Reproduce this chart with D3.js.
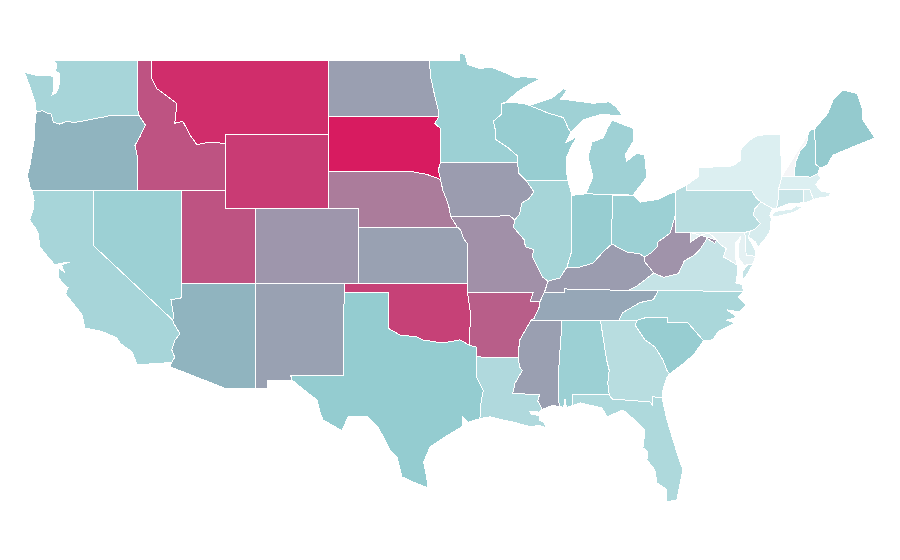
<!DOCTYPE html>
<html lang="en">
<head>
    <meta charset="utf-8">
    <title>D3: US States Choropleth</title>
    <script type="text/javascript" src="https://d3js.org/d3.v7.min.js"></script>
    <style>
        html, body { margin: 0; background: #fff; }
        svg { display: block; }
    </style>
</head>
<body>
    <script type="text/javascript">

        var stateNames = ["WA","OR","CA","NV","ID","MT","WY","UT","AZ","CO","NM","ND","SD","NE","KS","OK","TX","MN","IA","MO","AR","LA","WI","IL","MI","IN","OH","KY","TN","MS","AL","GA","FL","SC","NC","VA","WV","PA","NY","NJ","DE","MD","CT","RI","MA","VT","NH","ME"];
        var stateValues = [28,45,28,32,81,94,89,81,45,58,54,55,100,67,54,87,35,32,56,60,77,25,34,28.5,31,34,32,56,51,55,32,22,25.5,34,27,17.5,59,22,9,11,11,6,16,10,9,0,32,36];

        // Colour ramp
        var colorStops = [0, 8, 35, 45, 55, 100];
        var colorRange = ["#f5f5f7", "#dff0f2", "#94ccd0", "#90b4bf", "#9a9fb1", "#d81b60"];

        // Shared borders, [lon, lat]
        var waCoast = [[-122.76,49],[-122.5,48.75],[-122.6,48.4],[-122.35,48.3],[-122.3,47.9],[-122.4,47.5],[-122.55,47.25],[-122.85,47.1],[-122.7,47.4],[-122.7,47.75],[-122.75,48.13],[-123.1,48.15],[-123.9,48.18],[-124.7,48.33],[-124.32,47.54],[-123.98,46.73],[-123.9,46.2]];
        var columbia = [[-123.9,46.2],[-123.5,46.27],[-123.2,46.15],[-122.9,46.1],[-122.8,45.85],[-122.75,45.65],[-122.3,45.55],[-121.9,45.68],[-121.2,45.65],[-120.6,45.74],[-119.9,45.85],[-119.3,45.93],[-119,46],[-116.92,46]];
        var orCoast = [[-123.9,46.2],[-123.97,45.8],[-124.05,44.69],[-124.3,43.45],[-124.5,42.8],[-124.3,42.1],[-124.2,42]];
        var caCoast = [[-124.2,42],[-124.05,41.46],[-124.1,41],[-124.35,40.4],[-124,40],[-123.78,39.7],[-123.65,38.94],[-123.1,38.4],[-122.63,37.97],[-122.35,38.05],[-121.6,38.12],[-122.2,37.98],[-122,37.6],[-122.4,37.8],[-122.4,37.3],[-122.05,36.95],[-121.75,36.75],[-121.9,36.4],[-120.8,35.3],[-120.6,34.58],[-119.45,34.4],[-118.42,34.04],[-118.2,33.75],[-117.4,33.3],[-117.06,32.6]];
        var snake = [[-117.03,42],[-117.03,43.8],[-117.2,44.4],[-116.85,44.9],[-116.5,45.5],[-116.92,46]];
        var coloradoLow = [[-114.72,32.72],[-114.5,33],[-114.7,33.4],[-114.5,33.9],[-114.15,34.27],[-114.6,34.87],[-114.63,35]];
        var nvAz = [[-114.63,35],[-114.57,35.2],[-114.75,36.1],[-114.4,36.15],[-114.05,36.2]];
        var idMt = [[-116.05,49],[-116.05,48],[-115.7,47.45],[-114.75,46.9],[-114.35,46.65],[-114.5,45.6],[-113.95,45.7],[-113.45,44.95],[-113,44.45],[-112.3,44.55],[-111.5,44.55],[-111.05,44.47]];
        var txSouth = [[-106.53,31.78],[-105.65,31.2],[-104.84,30.71],[-104.64,30.06],[-104.43,29.63],[-103.14,29.05],[-102.74,29.8],[-101.38,29.8],[-100.7,29.26],[-99.89,28.02],[-99.41,27.65],[-99.07,26.57],[-98.19,26.25],[-97.31,25.98],[-97.4,26.6],[-97.6,27.35],[-97.17,28.18],[-96.15,28.72],[-95,29.26],[-94.93,29.8],[-94.6,29.5],[-93.78,29.7]];
        var redRiver = [[-100,34.56],[-99.2,34.2],[-98.05,34.1],[-97.7,33.94],[-96.3,33.77],[-95.13,33.94],[-94.48,33.64]];
        var sabine = [[-94.04,31.99],[-93.55,31.2],[-93.7,30.6],[-93.75,30.1],[-93.78,29.7]];
        var arTn = [[-89.7,36],[-89.7,35.8],[-90.1,35.1],[-90.3,35]];
        var arMs = [[-90.3,35],[-90.6,34.6],[-91.1,33.9],[-91.17,33]];
        var laMs = [[-91.17,33],[-91.1,32.5],[-90.9,32.3],[-91.4,31.6],[-91.55,31.05],[-89.73,31],[-89.85,30.65],[-89.55,30.2]];
        var laCoast = [[-89.55,30.2],[-89.75,30.05],[-90.4,30.1],[-90.3,29.95],[-89.7,29.85],[-89.75,29.6],[-89.4,29.5],[-89.3,29.2],[-89.75,29.35],[-90.3,29.26],[-90.86,29.37],[-91.4,29.5],[-92.2,29.63],[-93.1,29.8],[-93.78,29.7]];
        var savannah = [[-83.1,35],[-83.25,34.74],[-82.57,33.94],[-81.9,33.56],[-81.35,32.86],[-81.08,32.3],[-80.9,32.1]];
        var scNc = [[-83.1,35],[-82.37,35.17],[-81.05,35.15],[-81.05,34.85],[-79.65,34.85],[-78.6,33.9]];
        var scCoast = [[-78.6,33.9],[-79.2,33.2],[-79.9,32.7],[-80.4,32.4],[-80.9,32.1]];
        var ncCoast = [[-78.6,33.9],[-77.96,33.94],[-77.6,34.4],[-76.46,34.85],[-77,35],[-76.33,35.17],[-77,35.55],[-76.13,35.44],[-75.71,35.82],[-76.27,36.25],[-75.87,36.55]];
        var ncTn = [[-81.68,36.59],[-82,36.1],[-82.9,35.95],[-84.1,35.4],[-84.32,35]];
        var vaKy = [[-83.68,36.6],[-83.1,36.85],[-81.97,37.54]];
        var vaWv = [[-81.97,37.54],[-81.3,37.3],[-80.3,37.5],[-79.9,38.2],[-79.3,38.45],[-78.87,38.77],[-78.35,39.4],[-77.83,39.13],[-77.72,39.32]];
        var wvMd = [[-77.72,39.32],[-78.2,39.68],[-78.75,39.6],[-79.48,39.2],[-79.48,39.72]];
        var potomac = [[-77.72,39.32],[-77.5,39.1],[-77.05,38.85],[-77.25,38.4],[-77,38.3],[-76.3,37.95]];
        var vaCoast = [[-76.3,37.95],[-76.3,37.5],[-76.4,37],[-76,36.92],[-75.87,36.55]];
        var ohioWv = [[-80.52,40.64],[-80.85,39.7],[-81.7,39.2],[-81.75,38.95],[-82.2,38.6],[-82.6,38.4]];
        var ohioKy = [[-82.6,38.4],[-83,38.6],[-83.7,38.63],[-84.25,38.85],[-84.82,39.1]];
        var kyIn = [[-84.82,39.1],[-85.42,38.67],[-86.1,38.07],[-86.98,37.86],[-87.87,37.86]];
        var kyIl = [[-87.87,37.86],[-88.35,37.27],[-89.15,37.1]];
        var moIl = [[-91.42,40.38],[-91.5,40],[-90.75,39.3],[-90.7,38.95],[-90.15,38.8],[-90.2,38.4],[-89.9,37.9],[-89.5,37.3],[-89.15,37.1]];
        var iaIl = [[-90.64,42.51],[-90.1,41.9],[-90.5,41.5],[-90.95,41.3],[-91,41],[-91.1,40.7],[-91.42,40.38]];
        var moUpper = [[-95.77,40.58],[-95.85,41],[-96.1,41.6],[-96.3,42],[-96.45,42.55]];
        var neSd = [[-96.45,42.55],[-96.7,42.65],[-97.4,42.85],[-98.45,43],[-104.05,43]];
        var redNorth = [[-97.23,49],[-97.1,48],[-96.8,46.9],[-96.6,46.3],[-96.56,45.94]];
        var mnWi = [[-92.29,46.66],[-92.29,46.1],[-92.87,45.7],[-92.75,45.3],[-92.75,44.75],[-91.9,44.3],[-91.25,43.85],[-91.22,43.5]];
        var wiMi = [[-90.4,46.55],[-89.1,46.13],[-88.1,45.9],[-87.8,45.35],[-87.6,45.1]];
        var paNj = [[-75.35,42],[-75.05,41.6],[-74.7,41.36],[-75.13,40.98],[-75.2,40.65],[-74.75,40.2],[-75.1,39.9],[-75.42,39.8]];
        var nyNe = [[-73.35,45.01],[-73.4,44],[-73.25,43.6],[-73.27,42.75]];
        var vtNh = [[-72.46,42.73],[-72.35,43.5],[-72.05,44.1],[-71.6,44.5],[-71.5,45]];
        var nhMe = [[-70.69,43.18],[-70.98,43.4],[-71.05,45.3]];

        function rev(line) { return line.slice().reverse(); }
        // geojson rings have to end on their first point
        function ring() {
            var pts = Array.prototype.concat.apply([], arguments);
            pts.push(pts[0]);
            return [pts];
        }

        // Outlines for every state, built from the borders above
        var stateShapes = {
            WA: [ring([[-117.04,49]], waCoast, columbia, [[-117.04,46.4]])],
            OR: [ring(orCoast, [[-120,42]], snake, rev(columbia))],
            CA: [ring(caCoast, coloradoLow, [[-120,39],[-120,42]])],
            NV: [ring([[-120,42],[-114.04,42],[-114.04,37]], rev(nvAz), [[-120,39]])],
            ID: [ring(idMt, [[-111.05,42],[-114.04,42]], snake, [[-117.04,46.4],[-117.04,49]])],
            MT: [ring([[-104.05,49],[-104.05,45],[-111.05,45]], rev(idMt))],
            WY: [ring([[-111.05,45],[-104.05,45],[-104.05,41],[-111.05,41]])],
            UT: [ring([[-114.04,42],[-111.05,42],[-111.05,41],[-109.05,41],[-109.05,37],[-114.04,37]])],
            AZ: [ring([[-114.04,37],[-109.05,37],[-109.05,31.33],[-111.07,31.33],[-114.81,32.49]], coloradoLow, nvAz)],
            CO: [ring([[-109.05,41],[-102.05,41],[-102.05,37],[-109.05,37]])],
            NM: [ring([[-109.05,37],[-103,37],[-103,36.5],[-103.04,32],[-106.62,32],[-106.53,31.78],[-108.2,31.78],[-108.2,31.33],[-109.05,31.33]])],
            ND: [ring([[-104.05,49]], redNorth, [[-104.05,45.94]])],
            SD: [ring([[-104.05,45.94],[-96.56,45.94],[-96.85,45.6],[-96.45,45.3],[-96.45,43.5],[-96.6,43.1]], neSd)],
            NE: [ring(rev(neSd), rev(moUpper), [[-95.31,40],[-102.05,40],[-102.05,41],[-104.05,41]])],
            KS: [ring([[-102.05,40],[-95.31,40],[-95.1,39.87],[-94.9,39.4],[-94.62,39.1],[-94.62,37],[-102.05,37]])],
            OK: [ring([[-103,37],[-94.62,37],[-94.62,36.5],[-94.43,35.4]], rev(redRiver), [[-100,36.5],[-103,36.5]])],
            TX: [ring([[-103,36.5],[-100,36.5]], redRiver, [[-94.04,33.55],[-94.04,33.02]], sabine, rev(txSouth), [[-106.62,32],[-103.04,32]])],
            MN: [ring(redNorth, [[-96.85,45.6],[-96.45,45.3],[-96.45,43.5]], rev(mnWi), [[-92,46.75],[-91.2,47.3],[-90.3,47.75],[-89.6,48],[-90.75,48.1],[-91.4,48.07],[-92,48.3],[-92.95,48.6],[-93.8,48.55],[-94.6,48.75],[-94.8,49.3],[-95.15,49.38],[-95.15,49]])],
            IA: [ring([[-96.45,43.5],[-91.22,43.5],[-91.15,42.9]], iaIl, [[-91.73,40.61]], moUpper, [[-96.6,43.1]])],
            MO: [ring([[-95.77,40.58],[-91.73,40.61]], moIl, [[-89.4,36.5],[-89.7,36],[-90.37,36],[-90.15,36.5],[-94.62,36.5],[-94.62,37],[-94.62,39.1],[-94.9,39.4],[-95.1,39.87],[-95.31,40]])],
            AR: [ring([[-94.62,36.5],[-90.15,36.5],[-90.37,36]], arTn, arMs, [[-94.04,33.02],[-94.04,33.55],[-94.48,33.64],[-94.43,35.4]])],
            LA: [ring([[-94.04,33.02]], laMs, laCoast, rev(sabine))],
            WI: [ring(mnWi, [[-91.15,42.9],[-90.64,42.51],[-87.8,42.5],[-87.9,43],[-87.9,43.75],[-87.55,44.4],[-87.15,44.9],[-87.95,44.55]], rev(wiMi), [[-90.85,46.68],[-92,46.7]])],
            IL: [ring([[-87.8,42.5],[-87.53,41.7],[-87.53,39.35],[-87.55,38.7]], kyIl, rev(moIl), rev(iaIl))],
            MI: [ring([[-86.6,41.8],[-84.8,41.76],[-83.39,41.73],[-83.12,42],[-82.44,42.7],[-82.6,43.88],[-83.12,43.99],[-83.8,43.56],[-83.93,43.88],[-83.32,44.69],[-83.39,45.33],[-84.81,45.76],[-85.1,45.35],[-85.43,44.8],[-86.17,44.58],[-86.44,43.77],[-86.1,42.7]]),
                 ring(wiMi, [[-87.3,45.35],[-86.8,45.76],[-86.3,45.9],[-85.5,46.08],[-84.81,46.03],[-84.1,46],[-84.5,46.45],[-85,46.75],[-86.1,46.67],[-87.46,46.82],[-88.3,46.9],[-87.85,47.4],[-88.1,47.45],[-88.9,46.95]])],
            IN: [ring([[-84.8,41.76]], kyIn, [[-87.55,38.7],[-87.53,39.35],[-87.53,41.7],[-87.2,41.75],[-86.6,41.8]])],
            OH: [ring([[-80.52,41.97]], ohioWv, ohioKy, [[-84.8,41.7],[-83.39,41.73],[-82.9,41.35],[-81.7,41.5],[-81.2,41.7],[-80.4,41.95]])],
            KY: [ring(ohioKy, kyIn, kyIl, [[-89.4,36.5],[-88.07,36.5],[-88.07,36.68]], vaKy, [[-82.6,38.15]])],
            TN: [ring([[-90.3,35],[-85.6,35]], rev(ncTn), [[-83.68,36.6],[-88.07,36.68],[-88.07,36.5],[-89.4,36.5]], arTn)],
            MS: [ring([[-90.3,35],[-88.2,35],[-88.47,31.9],[-88.4,30.37],[-88.9,30.4]], rev(laMs), rev(arMs))],
            AL: [ring([[-88.2,35],[-85.6,35],[-85.18,32.87],[-85,32.3],[-85.1,31.6],[-85,31],[-87.5,31],[-87.5,30.4],[-87.9,30.3],[-88,30.75],[-88.1,30.3],[-88.4,30.37],[-88.47,31.9]])],
            GA: [ring([[-85.6,35],[-84.32,35]], savannah, [[-81.08,31.95],[-81.35,31.25],[-81.42,30.85],[-82.03,30.87],[-82.03,30.4],[-82.24,30.6],[-84.82,30.76],[-85,31],[-85.1,31.6],[-85,32.3],[-85.18,32.87]])],
            FL: [ring([[-87.5,31],[-85,31],[-84.82,30.76],[-82.24,30.6],[-82.03,30.4],[-82.03,30.87],[-81.42,30.85],[-81.08,29.63],[-80.4,27.86],[-80,26.95],[-80.4,25.33],[-81.08,25.23],[-81.08,25.87],[-81.76,26.25],[-81.9,26.95],[-82.44,27.48],[-82.37,27.91],[-82.71,28.13],[-82.57,29.1],[-83.12,29.53],[-84.07,30.17],[-85.15,29.8],[-85.49,30.28],[-86.98,30.55],[-87.5,30.4]])],
            SC: [ring(scNc, scCoast, rev(savannah))],
            NC: [ring([[-81.68,36.59]], rev(ncCoast), rev(scNc), [[-84.32,35]], rev(ncTn))],
            VA: [ring([[-75.87,36.55],[-81.68,36.59]], vaKy, vaWv, potomac, vaCoast),
                 ring([[-75.24,38.03],[-75.6,37.5],[-75.95,37.15],[-75.95,37.6],[-75.65,37.95]])],
            WV: [ring([[-79.48,39.72],[-80.52,39.72]], ohioWv, [[-82.6,38.15]], vaWv, wvMd)],
            PA: [ring([[-80.52,41.97],[-79.76,42.27],[-79.76,42]], paNj, [[-75.79,39.72],[-80.52,39.72],[-80.52,40.64]])],
            NY: [ring([[-79.76,42.27],[-78.97,42.7],[-78.97,43.2],[-76.6,43.3],[-76.1,43.6],[-76.1,44.15],[-75.45,44.7],[-74.9,44.95]], nyNe, [[-73.5,42.05],[-73.55,41.3],[-73.65,41],[-73.9,41],[-74.7,41.36],[-75.05,41.6],[-75.35,42],[-79.76,42]]),
                 ring([[-74,40.58],[-73.75,40.85],[-72.6,40.98],[-72.3,41.15],[-71.87,41.07],[-72.5,40.8],[-73.5,40.6]])],
            NJ: [ring([[-74.7,41.36],[-73.9,41],[-74.1,40.65],[-74,40.45],[-74.1,39.75],[-74.4,39.4],[-74.9,38.93],[-75.05,39.2],[-75.55,39.5],[-75.42,39.8],[-75.1,39.9],[-74.75,40.2],[-75.2,40.65],[-75.13,40.98]])],
            DE: [ring([[-75.79,39.72],[-75.42,39.8],[-75.55,39.45],[-75.1,38.8],[-75.05,38.45],[-75.7,38.46]])],
            MD: [ring([[-79.48,39.72],[-75.79,39.72],[-75.7,38.46],[-75.05,38.45],[-75.24,38.03],[-75.85,37.95],[-76.25,38.4],[-76.25,39],[-76.05,39.5],[-76.4,39.2],[-76.45,38.5],[-76.35,38.05]], rev(potomac), rev(wvMd))],
            CT: [ring([[-73.5,42.05],[-71.8,42.02],[-71.8,41.32],[-72.9,41.25],[-73.65,41],[-73.55,41.3]])],
            RI: [ring([[-71.8,42.02],[-71.38,42.02],[-71.13,41.5],[-71.5,41.37],[-71.8,41.32]])],
            MA: [ring([[-73.27,42.75],[-72.46,42.73],[-71.3,42.7],[-70.85,42.88],[-70.6,42.65],[-71,42.3],[-70.6,41.95],[-70,41.85],[-70.05,41.65],[-70.6,41.6],[-71.13,41.5],[-71.38,42.02],[-71.8,42.02],[-73.5,42.05]])],
            VT: [ring([[-73.27,42.75]], vtNh, rev(nyNe))],
            NH: [ring([[-72.46,42.73],[-71.3,42.7],[-70.85,42.88]], nhMe, [[-71.4,45.2]], rev(vtNh))],
            ME: [ring(nhMe, [[-70.15,46.14],[-69.81,46.84],[-69.13,47.38],[-68.18,47.2],[-67.77,46.3],[-67.77,45.76],[-66.96,44.8],[-68.18,44.42],[-69.81,43.88],[-70.2,43.34]])]
        };

        var width = 900, height = 560;

        var svg = d3.select("body").append("svg")
            .attr("width", width)
            .attr("height", height);

        // The map is a plain lon/lat stretch, so one linear scale per axis
        var x = d3.scaleLinear().domain([-109.05, -102.05]).range([255, 358.1]);
        var y = d3.scaleLinear().domain([37, 49]).range([283, 60]);

        var stretch = d3.geoTransform({
            point: function(lon, lat) { this.stream.point(x(lon), y(lat)); }
        });
        var path = d3.geoPath(stretch);

        var colorScale = d3.scaleLinear().domain(colorStops).range(colorRange);

        var features = stateNames.map(function(name, i) {
            return {
                type: "Feature",
                properties: { name: name, value: stateValues[i] },
                geometry: { type: "MultiPolygon", coordinates: stateShapes[name] }
            };
        });

        svg.selectAll("path")
            .data(features)
            .enter()
            .append("path")
            .attr("d", path)
            .attr("fill", function(d) { return colorScale(d.properties.value); })
            .attr("stroke", "#fff")
            .attr("stroke-width", 1)
            .attr("shape-rendering", "crispEdges");

    </script>
</body>
</html>
